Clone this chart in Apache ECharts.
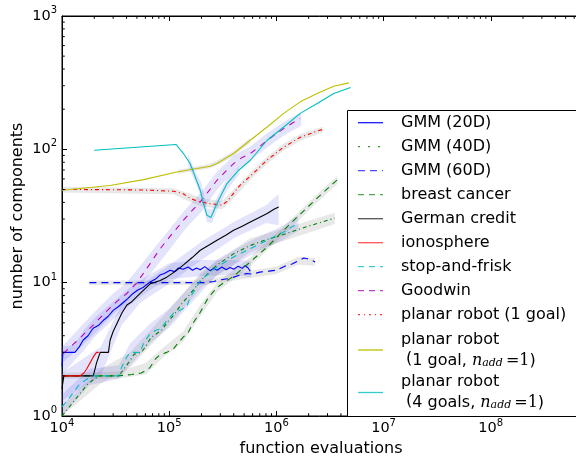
<!DOCTYPE html>
<html>
<head>
<meta charset="utf-8">
<script src="https://cdn.jsdelivr.net/npm/echarts@6/dist/echarts.min.js"></script>
<style>
html,body{margin:0;padding:0;background:#fff;}
#chart{width:576px;height:456px;}
</style>
</head>
<body>
<div id="chart"></div>
<script>
// ---------------- data ----------------
const X_MIN = 1e4, X_MAX = 6.8e8, Y_MIN = 1, Y_MAX = 1000;
const X_TITLE = 'function evaluations';
const Y_TITLE = 'number of components';

const gmm20 = [[1e4,2.36],[1.02e4,3],[1.32e4,3],[1.45e4,3.3],[1.57e4,3.7],[1.75e4,4.0],[1.95e4,4.55],[2.2e4,4.8],[2.42e4,5.2],[2.7e4,5.6],[3.0e4,6.2],[3.35e4,6.6],[3.72e4,7.1],[4.1e4,7.6],[4.6e4,8.3],[5.1e4,8.8],[5.7e4,9.2],[6.6e4,10.1],[7.4e4,10.6],[8.2e4,11.4],[9e4,11.7],[1.02e5,12.4],[1.12e5,12.1],[1.22e5,12.9],[1.35e5,12.6],[1.5e5,13.1],[1.65e5,12.4],[1.8e5,12.9],[1.95e5,12.5],[2.15e5,13.2],[2.4e5,12.3],[2.6e5,12.8],[2.8e5,12.4],[3.1e5,13.1],[3.4e5,12.5],[3.7e5,13.0],[4.0e5,12.6],[4.4e5,13.3],[4.8e5,12.8],[5.1e5,13.4],[5.4e5,13.0],[5.7e5,12.2]];
const gmm40 = [[1e4,1],[1.1e4,1.1],[1.25e4,1.25],[1.45e4,1.45],[1.7e4,1.7],[2.0e4,1.9],[2.3e4,2],[3.4e4,2],[3.7e4,2.2],[4.3e4,2.6],[4.7e4,2.9],[5.5e4,3],[6e4,3.3],[6.8e4,3.9],[7.5e4,4.1],[8.5e4,4.4],[9.5e4,5],[1.1e5,5.7],[1.3e5,6.9],[1.6e5,8.4],[2e5,10.5],[2.8e5,13.6],[4e5,16.5],[5.7e5,19],[8e5,21],[1.17e6,23],[1.7e6,25.5],[2.4e6,27.8],[3.5e6,30.5]];
const gmm60 = [[1.8e4,10],[2.2e5,10],[2.6e5,10.2],[3e5,10.5],[3.5e5,10.7],[4e5,11],[4.6e5,11.4],[5.3e5,11.7],[6e5,11.6],[7e5,12],[8.5e5,12.2],[1e6,12.4],[1.2e6,13.3],[1.4e6,13.8],[1.6e6,14.6],[1.8e6,15.3],[1.95e6,15.1],[2.1e6,14.8],[2.3e6,14.3]];
const breastCancer = [[1e4,2],[3.3e4,2],[4.5e4,2.05],[5.5e4,2.1],[6.6e4,2.3],[7.5e4,2.7],[8.3e4,2.9],[9.5e4,3],[1.1e5,3.2],[1.2e5,3.5],[1.35e5,3.9],[1.5e5,4.2],[1.65e5,4.9],[1.95e5,6.0],[2.25e5,7.4],[2.5e5,8.3],[2.8e5,9.2],[3.3e5,10.1],[4e5,11.2],[5.7e5,14.3],[8.2e5,18.5],[1.17e6,24.7],[1.56e6,31],[2.4e6,43],[3.43e6,56],[3.7e6,59]];
const germanCredit = [[1e4,1.6],[1.04e4,2],[1.96e4,2],[2.1e4,2.5],[2.27e4,3],[2.71e4,3],[2.81e4,3.7],[3.0e4,4.3],[3.24e4,4.9],[3.61e4,5.9],[4.03e4,6.8],[4.48e4,7.2],[5.36e4,8.3],[6.64e4,9.8],[8.24e4,10.4],[9.5e4,11],[1.15e5,12.2],[1.36e5,13.6],[1.65e5,15.5],[1.95e5,17.5],[2.4e5,19.3],[2.79e5,20.8],[3.4e5,22.8],[3.99e5,24.7],[4.8e5,26.5],[5.71e5,28.5],[7e5,31],[8.2e5,33],[9.5e5,35.5],[1.05e6,37]];
const ionosphere = [[1e4,2],[1.47e4,2],[1.6e4,2.1],[1.7e4,2.25],[1.8e4,2.45],[1.9e4,2.65],[2.0e4,2.85],[2.1e4,3],[2.2e4,3]];
const stopAndFrisk = [[1e4,1.17],[1.19e4,1.39],[1.47e4,1.75],[1.83e4,1.95],[2e4,2],[3.36e4,2],[3.61e4,2.33],[4.03e4,2.77],[4.32e4,3],[5.36e4,3],[5.75e4,3.5],[6.64e4,4.15],[7.5e4,4.4],[8.3e4,4.5],[9.5e4,5.2],[1.1e5,5.9],[1.3e5,6.3],[1.46e5,6.6],[1.57e5,7.8],[1.7e5,8.6],[1.95e5,10.4],[2.79e5,13.1],[3.99e5,15.6],[5.71e5,18],[8.2e5,20.8],[1.17e6,24],[1.6e6,28]];
const goodwin = [[1.03e4,2.94],[1.2e4,3.3],[1.5e4,3.9],[2e4,4.9],[2.6e4,6.1],[3.3e4,7.3],[4.03e4,8.3],[5e4,10],[6.64e4,13.9],[8e4,17.4],[9.5e4,20.8],[1.15e5,25],[1.36e5,29.4],[1.65e5,35],[1.95e5,40.3],[2.4e5,50],[2.79e5,58.6],[3.4e5,69],[3.99e5,78.2],[4.8e5,87],[5.71e5,93],[7e5,105],[8.2e5,117],[1e6,131],[1.17e6,143],[1.4e6,157],[1.67e6,170]];
const planar1 = [[1e4,50],[3e4,49.8],[6e4,49.5],[1.1e5,48.5],[1.35e5,46.5],[1.57e5,42.8],[1.95e5,40.3],[2.5e5,39],[3.11e5,38.1],[3.5e5,41],[3.86e5,45.3],[4.5e5,53],[5.71e5,63],[8.2e5,83],[1.17e6,104],[1.67e6,123],[2.4e6,137],[2.7e6,141]];
const planar1Add = [[1e4,49.3],[2.81e4,53.6],[5.76e4,59.3],[1.18e5,67.7],[1.6e5,70.5],[2.42e5,74.7],[2.79e5,78.2],[3.99e5,93],[5.71e5,117],[8.2e5,147],[1.17e6,186],[1.67e6,227],[2.4e6,262],[3.43e6,297],[4.74e6,315]];
const planar4Add = [[2e4,98.5],[5.8e4,104.5],[1.16e5,108.7],[1.36e5,93],[1.57e5,78],[1.75e5,62],[1.95e5,49.3],[2.09e5,39.2],[2.25e5,32],[2.45e5,30.8],[2.55e5,31.5],[2.79e5,39.2],[3.46e5,55.4],[4.45e5,69.7],[5.71e5,82.8],[8.2e5,117],[1.17e6,147],[1.67e6,186],[2.4e6,221],[3.43e6,262],[4.92e6,291]];

// shaded bands: [x, lower, upper]
const goodwinBand = [[1e4,2.5,3.3],[1.5e4,3.3,4.7],[2e4,4.1,6],[3e4,5.8,8.3],[4e4,7.2,10],[6.6e4,11.5,16.5],[1e5,17.5,25],[1.4e5,25,35],[2e5,34,48],[2.8e5,50,68],[4e5,68,90],[5.7e5,82,105],[8.2e5,103,132],[1.17e6,127,160],[1.7e6,150,190]];
const gmm20Band = [[1e4,2,3.3],[1.3e4,2.6,3.4],[1.6e4,3.1,4.4],[2e4,3.9,5.4],[3e4,5.3,7.2],[4.6e4,7.1,9.6],[6.6e4,8.8,11.5],[1e5,10.6,14],[2e5,11.2,14.8],[4e5,11.4,14.8],[5.8e5,11,14.6]];
const germanBand = [[1e4,1.3,2.1],[2.3e4,2,3.3],[3.6e4,4.8,6.9],[5.4e4,7.1,9.6],[1e5,9.8,13.5],[2e5,14.8,20.3],[4e5,21.5,28.5],[8e5,28,38],[1.05e6,27,46]];
const sfBand = [[1e4,1.0,1.45],[1.8e4,1.7,2.25],[3.4e4,1.9,2.4],[4.3e4,2.4,3.5],[6.6e4,3.5,4.9],[1e5,4.6,6.4],[1.6e5,7,9.6],[2.8e5,11.5,15],[5.7e5,16,20.5],[1.17e6,21,27],[1.6e6,24.5,32]];
const gmm40Band = [[1e4,1,1.2],[2.3e4,1.75,2.25],[4.3e4,2.3,3.0],[7e4,3.5,4.6],[1e5,4.8,6.3],[2e5,9.2,12],[5.7e5,17,21.5],[1.17e6,20.5,25.5],[3.5e6,27.5,33.5]];
const breastBand = [[1e4,1.9,2.1],[3.3e4,1.9,2.15],[6e4,2.05,2.5],[9e4,2.8,3.3],[1.35e5,3.6,4.3],[1.95e5,5.6,6.8],[2.8e5,8.5,10],[5.7e5,13.3,15.5],[1.17e6,23,26.5],[2.4e6,40,46],[3.7e6,55,63]];
const gmm60Band = [[1.8e4,9.6,10.4],[2.2e5,9.6,10.4],[4e5,10.4,11.7],[1e6,11.6,13.2],[1.6e6,13.6,15.6],[2.3e6,13.4,15.3]];
const planar1Band = [[1e4,47.5,52.5],[1.1e5,46,51],[1.6e5,40,46],[2e5,37.5,43],[3.1e5,35.5,41],[3.9e5,42,49],[5.7e5,59,67],[8.2e5,78,88],[1.17e6,98,110],[1.67e6,116,130],[2.7e6,134,148]];
const planar4Band = [[1.5e5,76,92],[1.75e5,57,68],[2e5,43,56],[2.25e5,28.5,36],[2.5e5,28,35],[2.8e5,35,44],[3.5e5,50,61],[4.5e5,65,75]];
const planar1AddBand = [[1.2e5,65.5,70],[2.4e5,72,78],[3e5,78,85],[4e5,89,97],[5.7e5,112,122]];

const legendLabels = ['GMM (20D)','GMM (40D)','GMM (60D)','breast cancer','German credit','ionosphere','stop-and-frisk','Goodwin','planar robot (1 goal)','planar robot','planar robot'];
const legendSecondLines = {9:'1 goal, ', 10:'4 goals, '};

// ---------------- styling ----------------
const FONT = 'DejaVu Sans';
const LAV = 'rgba(90,90,230,0.17)';
const GRY = 'rgba(120,120,120,0.17)';

const lineDefs = [
  {name:'GMM (20D)', data:gmm20, color:'#0000ff', dash:'solid'},
  {name:'GMM (40D)', data:gmm40, color:'#008000', dash:[4,3,1,3]},
  {name:'GMM (60D)', data:gmm60, color:'#0000ff', dash:[7,5]},
  {name:'breast cancer', data:breastCancer, color:'#008000', dash:[6,5]},
  {name:'German credit', data:germanCredit, color:'#000000', dash:'solid'},
  {name:'ionosphere', data:ionosphere, color:'#ff0000', dash:'solid'},
  {name:'stop-and-frisk', data:stopAndFrisk, color:'#00bfbf', dash:[6,5]},
  {name:'Goodwin', data:goodwin, color:'#bf00bf', dash:[6,6]},
  {name:'planar robot (1 goal)', data:planar1, color:'#ff0000', dash:[4,3,1,3]},
  {name:'planar robot (1 goal, n_add=1)', data:planar1Add, color:'#bfbf00', dash:'solid'},
  {name:'planar robot (4 goals, n_add=1)', data:planar4Add, color:'#00bfbf', dash:'solid'}
];
const legendStyle = [
  {color:'#1a1aff', dash:null},
  {color:'#3a9a3a', dash:[2,8]},
  {color:'#4d4dff', dash:[7,5]},
  {color:'#4da64d', dash:[6,5]},
  {color:'#555555', dash:null},
  {color:'#ff5555', dash:null},
  {color:'#40cccc', dash:[6,5]},
  {color:'#c040c0', dash:[6,5]},
  {color:'#ff3333', dash:[2,4,1,4]},
  {color:'#bfbf00', dash:null},
  {color:'#33cccc', dash:null}
];

const bandDefs = [
  [goodwinBand, LAV], [gmm20Band, LAV], [germanBand, LAV], [sfBand, LAV], [gmm40Band, GRY],
  [breastBand, GRY], [gmm60Band, GRY], [planar1Band, GRY], [planar4Band, LAV], [planar1AddBand, GRY]
];

function bandSeries(band, color) {
  return {
    type:'custom', coordinateSystem:'cartesian2d', silent:true, clip:true, z:1,
    data:[[band[0][0], band[0][1]]],
    renderItem: function(params, api) {
      const up = band.map(b => api.coord([b[0], b[2]]));
      const lo = band.slice().reverse().map(b => api.coord([b[0], b[1]]));
      return {type:'polygon', shape:{points: up.concat(lo)}, style:{fill: color}};
    }
  };
}

// minor ticks (2..9 x 10^k) drawn through the axes' scales
const xMinor = [], yMinor = [];
for (let e = 4; e <= 8; e++) for (let m = 2; m <= 9; m++) { const v = m * Math.pow(10, e); if (v < X_MAX) xMinor.push(v); }
for (let e = 0; e <= 2; e++) for (let m = 2; m <= 9; m++) yMinor.push(m * Math.pow(10, e));
const minorTickSeries = {
  type:'custom', coordinateSystem:'cartesian2d', silent:true, clip:false, z:10,
  data:[[X_MIN, Y_MIN]],
  renderItem: function(params, api) {
    const children = [];
    const L = 2.8;
    xMinor.forEach(v => {
      const b = api.coord([v, Y_MIN]), t = api.coord([v, Y_MAX]);
      children.push({type:'line', shape:{x1:b[0], y1:b[1], x2:b[0], y2:b[1]-L}, style:{stroke:'#000', lineWidth:1}});
      children.push({type:'line', shape:{x1:t[0], y1:t[1], x2:t[0], y2:t[1]+L}, style:{stroke:'#000', lineWidth:1}});
    });
    yMinor.forEach(v => {
      const l = api.coord([X_MIN, v]);
      children.push({type:'line', shape:{x1:l[0], y1:l[1], x2:l[0]+L, y2:l[1]}, style:{stroke:'#000', lineWidth:1}});
    });
    return {type:'group', children: children};
  }
};

function powLabel(v) {
  const e = Math.log10(v);
  if (Math.abs(e - Math.round(e)) > 1e-6) return '';
  return '{b|10}{s|' + Math.round(e) + '}';
}
const labelRich = {
  b:{fontSize:14.5, fontFamily:FONT, color:'#000', lineHeight:15, verticalAlign:'bottom'},
  s:{fontSize:10, fontFamily:FONT, color:'#000', lineHeight:10, padding:[0,0,8,0], verticalAlign:'bottom'}
};

const series = [];
bandDefs.forEach(b => series.push(bandSeries(b[0], b[1])));
lineDefs.forEach(d => series.push({
  type:'line', name:d.name, data:d.data, showSymbol:false, symbol:'none', z:3,
  lineStyle:{color:d.color, width:1.1, type:d.dash}, silent:true, animation:false
}));
series.push(minorTickSeries);

// axis titles and legend as graphic elements
const graphics = [];
graphics.push({type:'text', x:321, y:449, style:{text:X_TITLE, font:'16px "DejaVu Sans"', fill:'#000', textAlign:'center', textVerticalAlign:'middle'}, z:60});
graphics.push({type:'text', x:18, y:216, rotation:Math.PI/2, style:{text:Y_TITLE, font:'16px "DejaVu Sans"', fill:'#000', textAlign:'center', textVerticalAlign:'middle'}, z:60});
const LX = 347, LY = 110;
graphics.push({type:'rect', left:LX, top:LY, shape:{x:0, y:0, width:260, height:306}, style:{fill:'#fff', stroke:'#000', lineWidth:1}, z:50});
const rowY = [122.7,146.7,170.7,194.7,218.7,242.7,266.7,290.7,314.7,350,392.5];
legendLabels.forEach((lab, i) => {
  const y = rowY[i];
  const st = legendStyle[i];
  graphics.push({type:'line', shape:{x1:358, y1:y, x2:383, y2:y}, style:{stroke:st.color, lineWidth:1.3, lineDash:st.dash}, z:51});
  if (legendSecondLines[i] === undefined) {
    graphics.push({type:'text', x:401, y:y, style:{text:lab, font:'16px "DejaVu Sans"', fill:'#000', textVerticalAlign:'middle'}, z:51});
  } else {
    graphics.push({type:'text', x:401, y:y - 10.5, style:{text:lab, font:'16px "DejaVu Sans"', fill:'#000', textVerticalAlign:'middle'}, z:51});
    graphics.push({type:'text', x:401, y:y + 8.5, style:{
      text:' ({a|' + legendSecondLines[i] + '}{n|n}{sub|add}{eq|=1}{a|)}',
      font:'16px "DejaVu Sans"', fill:'#000', textVerticalAlign:'middle',
      rich:{
        a:{fontSize:16, fontFamily:FONT, verticalAlign:'bottom', lineHeight:20},
        n:{fontSize:16, fontFamily:'DejaVu Serif', fontStyle:'italic', verticalAlign:'bottom', lineHeight:20},
        sub:{fontSize:11, fontFamily:'DejaVu Serif', fontStyle:'italic', verticalAlign:'bottom', lineHeight:16, padding:[0,3,0,0]},
        eq:{fontSize:16, fontFamily:'DejaVu Serif', verticalAlign:'bottom', lineHeight:20}
      }}, z:51});
  }
});

const chart = echarts.init(document.getElementById('chart'), null, {renderer:'canvas'});
chart.setOption({
  animation:false,
  backgroundColor:'#fff',
  grid:{left:62, top:16, right:-4, bottom:40, show:true, borderColor:'#000', borderWidth:1, backgroundColor:'transparent', containLabel:false, outerBoundsMode:'none'},
  xAxis:[{
    type:'log', logBase:10, min:X_MIN, max:X_MAX, position:'bottom',
    axisLine:{show:true, lineStyle:{color:'#000', width:1}},
    axisTick:{show:true, inside:true, length:5, lineStyle:{color:'#000'}},
    splitLine:{show:false},
    axisLabel:{formatter:powLabel, rich:labelRich, margin:5, showMaxLabel:false, color:'#000'}
  },{
    type:'log', logBase:10, min:X_MIN, max:X_MAX, position:'top',
    axisLine:{show:true, lineStyle:{color:'#000', width:1}},
    axisTick:{show:true, inside:true, length:5, lineStyle:{color:'#000'}},
    axisLabel:{show:false}, splitLine:{show:false}
  }],
  yAxis:[{
    type:'log', logBase:10, min:Y_MIN, max:Y_MAX, position:'left',
    axisLine:{show:true, lineStyle:{color:'#000', width:1}},
    axisTick:{show:true, inside:true, length:5, lineStyle:{color:'#000'}},
    splitLine:{show:false},
    axisLabel:{formatter:powLabel, rich:labelRich, margin:5, color:'#000'}
  }],
  series: series,
  graphic: graphics
});
</script>
</body>
</html>
